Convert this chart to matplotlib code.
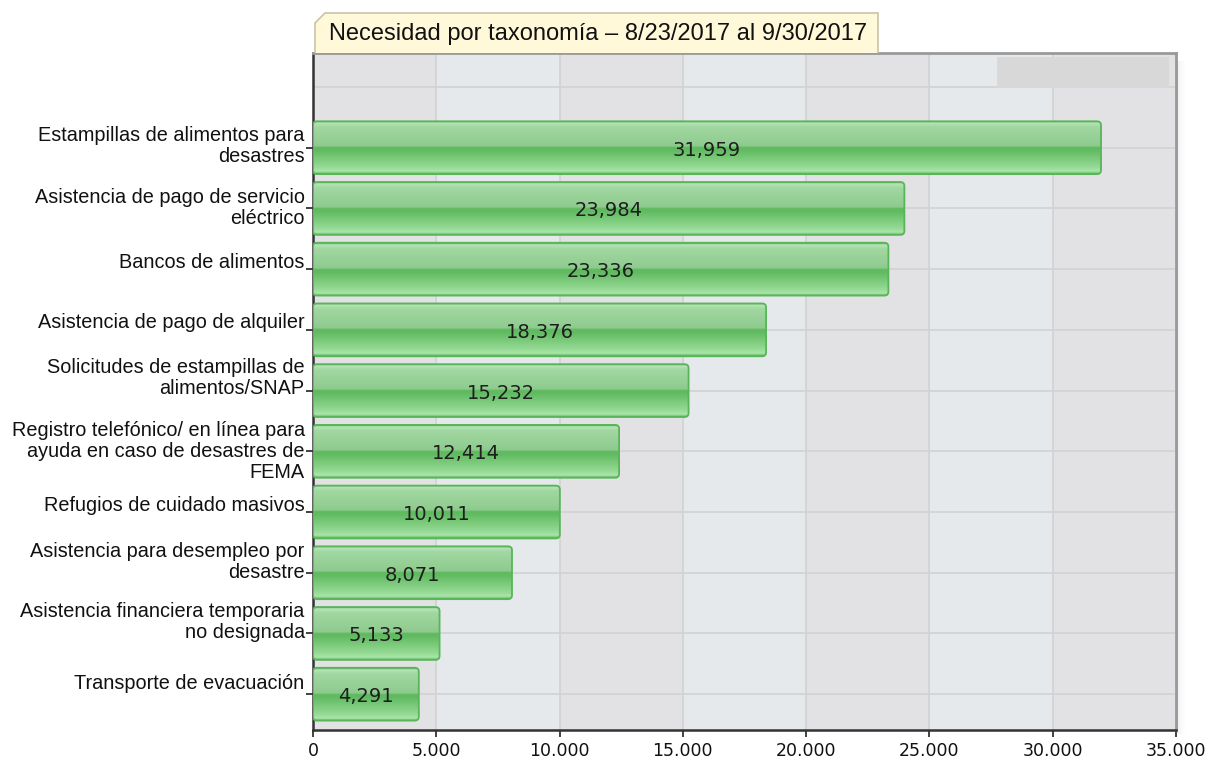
import numpy as np
import matplotlib
matplotlib.use("Agg")
import matplotlib.pyplot as plt
from matplotlib.patches import FancyBboxPatch, Rectangle, Polygon
from matplotlib.colors import to_rgb

# data, top bar first
categories = [
    "Estampillas de alimentos para\ndesastres",
    "Asistencia de pago de servicio\neléctrico",
    "Bancos de alimentos",
    "Asistencia de pago de alquiler",
    "Solicitudes de estampillas de\nalimentos/SNAP",
    "Registro telefónico/ en línea para\nayuda en caso de desastres de\nFEMA",
    "Refugios de cuidado masivos",
    "Asistencia para desempleo por\ndesastre",
    "Asistencia financiera temporaria\nno designada",
    "Transporte de evacuación",
]
values = [31959, 23984, 23336, 18376, 15232, 12414, 10011, 8071, 5133, 4291]
x_ticks = [0, 5000, 10000, 15000, 20000, 25000, 30000, 35000]
x_tick_labels = ["0", "5.000", "10.000", "15.000", "20.000", "25.000", "30.000", "35.000"]
title = "Necesidad por taxonomía – 8/23/2017 al 9/30/2017"

# vertical nudge of each category label (points, up)
label_nudge = [1, 0, 5, 5, 9, 0, 5, 7.5, 8.5, 8]

W, H = 1207, 763
plt.rcParams['font.family'] = ['Liberation Sans', 'DejaVu Sans']
fig = plt.figure(figsize=(W / 100, H / 100), dpi=100)
fig.patch.set_facecolor('white')

ax_l, ax_r, ax_t, ax_b = 313, 1176, 53, 730
ax = fig.add_axes([ax_l / W, 1 - ax_b / H, (ax_r - ax_l) / W, (ax_b - ax_t) / H])

n = len(categories)
ypos = np.arange(n)[::-1]  # top bar at n-1
ylo, yhi = -0.59, n + 0.56
xmax = 35000

# alternating column shading
for k in range(len(x_ticks) - 1):
    col = '#e2e2e4' if k % 2 == 0 else '#e6e9ec'
    ax.axvspan(x_ticks[k], x_ticks[k + 1], color=col, lw=0, zorder=0)
for xt in x_ticks[1:-1]:
    ax.axvline(xt, color='#d2d2d2', lw=1.2, zorder=1)
for yy in list(ypos) + [n]:
    ax.axhline(yy, color='#d2d2d2', lw=1.2, zorder=1)

# legend placeholder box
ax.add_patch(Rectangle((0.7926, 0.948), 0.1993, 0.046, transform=ax.transAxes,
                       facecolor='#d8d8d8', edgecolor='none', zorder=2))

# glossy bar gradient (top -> bottom)
stops = [(0.00, '#5db85d'), (0.03, '#b9e4b9'), (0.10, '#a2d8a2'), (0.47, '#8ecb8e'),
         (0.50, '#5fb95f'), (0.56, '#62bc62'), (0.88, '#97da97'), (0.95, '#aae6aa'),
         (1.00, '#5db85d')]
t = np.linspace(0, 1, 120)
grad = np.zeros((len(t), 1, 3))
for c in range(3):
    grad[:, 0, c] = np.interp(t, [s[0] for s in stops], [to_rgb(s[1])[c] for s in stops])

px_x = xmax / (ax_r - ax_l)
px_y = (yhi - ylo) / (ax_b - ax_t)
bh = 0.87
for y, v in zip(ypos, values):
    box = FancyBboxPatch((0, y - bh / 2), v, bh,
                         boxstyle=f"round,pad=0,rounding_size={4 * px_x}",
                         mutation_aspect=px_y / px_x,
                         facecolor='none', edgecolor='#58b558', lw=1.3, zorder=4)
    ax.add_patch(box)
    im = ax.imshow(grad, extent=(0, v, y - bh / 2, y + bh / 2), aspect='auto',
                   interpolation='bilinear', origin='upper', zorder=3)
    im.set_clip_path(box)
    ax.text(v / 2, y - 0.04, f"{v:,}", ha='center', va='center',
            fontsize=14, family='DejaVu Sans', color='#1e1e1e', zorder=5)

ax.set_xlim(0, xmax)
ax.set_ylim(ylo, yhi)
ax.set_xticks(x_ticks)
ax.set_xticklabels(x_tick_labels, fontsize=12.5, family='DejaVu Sans', color='#111111')
ax.set_yticks(ypos)
ax.set_yticklabels([''] * n)
ax.tick_params(axis='both', direction='out', length=5, width=1.3, color='#333333', pad=4)

for y, lab, dy in zip(ypos, categories, label_nudge):
    ax.annotate(lab, xy=(0, y), xycoords=('axes fraction', 'data'),
                xytext=(-6, dy), textcoords='offset points',
                ha='right', va='center', fontsize=14.3, color='#111111',
                multialignment='right', linespacing=1.13)

for s in ['top', 'right']:
    ax.spines[s].set_color('#9a9a9a')
    ax.spines[s].set_linewidth(2)
for s in ['left', 'bottom']:
    ax.spines[s].set_color('#333333')
    ax.spines[s].set_linewidth(1.8)

# soft drop shadow to the right of the plot
for i in range(8):
    fig.patches.append(Rectangle(((ax_r + 1 + i) / W, 1 - (ax_b + 4) / H), 1 / W,
                                 (ax_b - ax_t - 4) / H, transform=fig.transFigure,
                                 facecolor='black', alpha=0.05 * (1 - i / 8), lw=0))

# title tab with cut corner
tx0, tx1, ty0, ty1, cut = 315, 878, 13, 53, 10
pts = [(tx0, ty1), (tx0, ty0 + cut), (tx0 + cut, ty0), (tx1, ty0), (tx1, ty1)]
fig.patches.append(Polygon([(x / W, 1 - y / H) for x, y in pts], closed=False,
                           transform=fig.transFigure, facecolor='#fff9d9',
                           edgecolor='#c9c3a8', lw=1.2))
fig.text((tx0 + 14) / W, 1 - 34 / H, title, ha='left', va='center',
         fontsize=17, color='#111111')

fig.savefig('out.png', dpi=100)
